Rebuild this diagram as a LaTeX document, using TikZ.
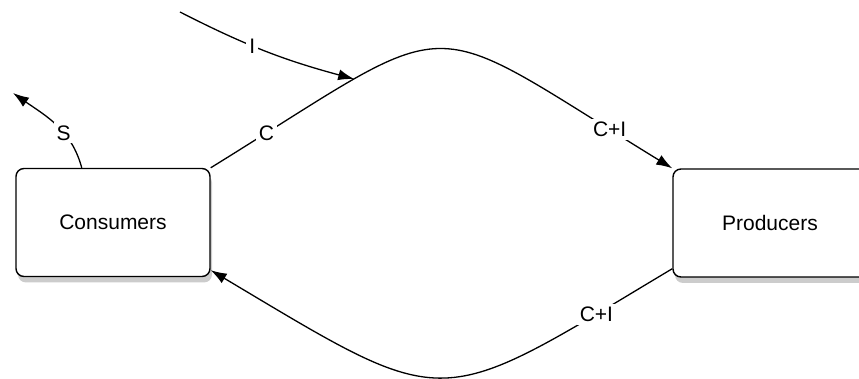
\documentclass[tikz,border=0pt]{standalone}
\usepackage{fontspec}
\setmainfont{Liberation Sans}
\usetikzlibrary{calc,shadows,arrows.meta}

\tikzset{
  box/.style={draw=black, fill=white, rounded corners=4pt, line width=0.7pt,
    minimum width=97pt, minimum height=54pt,
    drop shadow={opacity=0.4, shadow xshift=1pt, shadow yshift=-3pt}},
  lbl/.style={fill=white, inner sep=1.5pt},
  flow/.style={line width=0.65pt, -{Latex[length=8pt,width=5.5pt]}}
}

\begin{document}
\begin{tikzpicture}[x=0.5pt, y=0.5pt, font=\fontsize{10.5}{12}\selectfont]

\useasboundingbox (0,0) rectangle (859,379);

%BOXES
\node[box] (cons) at (113,156.5) {Consumers};
\node[box] (prod) at (770,156) {Producers};

%FREE ENDS
\coordinate (Istart) at (180,367);
\coordinate (Send) at (13,286);

%C AND C+I ON TOP
\draw[flow] (cons.north east) .. controls (466,369) and (414,369) .. (prod.north west)
  node[lbl, pos=0.08] {C}
  coordinate[pos=0.25] (join)
  node[lbl, pos=0.91] {C+I};

%C+I BACK
\draw[flow] ($(prod.south west)+(0,9)$) .. controls (433,-33) and (452,-35) .. ($(cons.south east)+(0,7)$)
  node[lbl, pos=0.12] {C+I};

%INVESTMENT
\draw[flow] (Istart) to[bend right=6] node[lbl, pos=0.42] {I} (join);

%SAVINGS
\draw[flow] ($(cons.north west)!0.34!(cons.north east)$) to[out=105, in=-35] node[lbl, pos=0.38] {S} (Send);

\end{tikzpicture}
\end{document}
